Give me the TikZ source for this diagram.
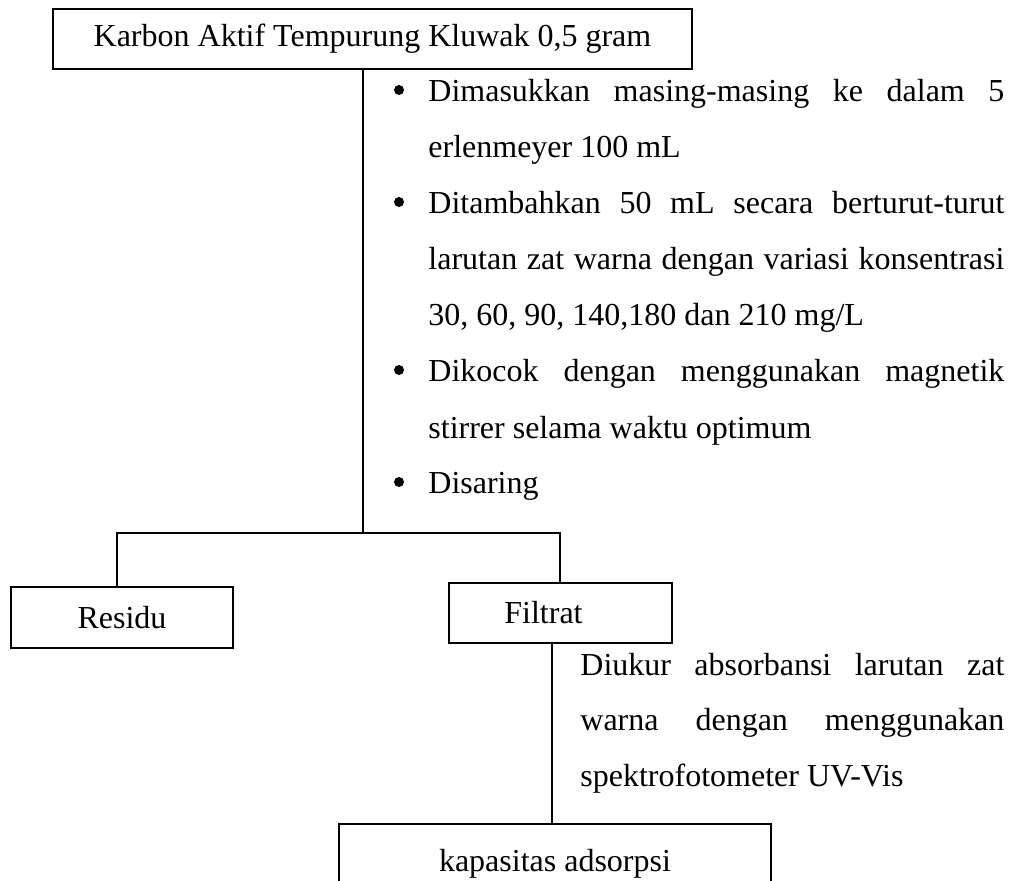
\documentclass[tikz,border=0pt]{standalone}
\usepackage{fontspec}
\setmainfont{Liberation Serif}
\newcommand{\fsz}{\fontsize{16}{19}\selectfont}
\begin{document}
\begin{tikzpicture}[x=0.5pt,y=-0.5pt,
  box/.style={draw,line width=0.8pt,inner sep=0pt,font=\fsz},
  txt/.style={inner sep=0pt,anchor=base west,font=\fsz},
  bul/.style={circle,fill=black,inner sep=0pt,minimum size=5pt},
  conn/.style={line width=0.8pt}]
\clip (0,0) rectangle (1016,881);
\useasboundingbox (0,0) rectangle (1016,881);

% boxes
\node[box,minimum width=319.5pt,minimum height=30pt] (karbon) at (372.5,39) {Karbon Aktif Tempurung Kluwak 0,5 gram};
\node[box,minimum width=111pt,minimum height=30.5pt] (residu) at (122,617.5) {Residu};
\node[box,minimum width=111.5pt,minimum height=30pt] (filtrat) at (560.5,613) {Filtrat\hspace*{17pt}};
\node[box,minimum width=216pt,minimum height=40pt] (kap) at (555,864) {kapasitas adsorpsi};

% bullet list
\node[bul] (b1) at (399,90) {};
\node[txt] (l1) at (428,102) {\makebox[288pt][s]{Dimasukkan masing-masing ke dalam 5}};
\node[txt] (l2) at (428,158) {erlenmeyer 100 mL};
\node[bul] (b2) at (399,202) {};
\node[txt] (l3) at (428,214) {\makebox[288pt][s]{Ditambahkan 50 mL secara berturut-turut}};
\node[txt] (l4) at (428,270) {\makebox[288pt][s]{larutan zat warna dengan variasi konsentrasi}};
\node[txt] (l5) at (428,326) {30, 60, 90, 140,180 dan 210 mg/L};
\node[bul] (b3) at (399,370) {};
\node[txt] (l6) at (428,382) {\makebox[288pt][s]{Dikocok dengan menggunakan magnetik}};
\node[txt] (l7) at (428,438) {stirrer selama waktu optimum};
\node[bul] (b4) at (399,482) {};
\node[txt] (l8) at (428,494) {Disaring};

% measurement text
\node[txt] (m1) at (580,675) {\makebox[212pt][s]{Diukur absorbansi larutan zat}};
\node[txt] (m2) at (580,730) {\makebox[212pt][s]{warna dengan menggunakan}};
\node[txt] (m3) at (580,786) {spektrofotometer UV-Vis};

% connectors
\coordinate (j) at (363,533);
\coordinate (hL) at (117,533);
\coordinate (hR) at (560,533);
\coordinate (fk) at (552,700);
\draw[conn] (karbon.south -| j) -- (j);
\draw[conn] (hL |- residu.north) -- (hL) -- (hR) -- (hR |- filtrat.north);
\draw[conn] (fk |- filtrat.south) -- (fk |- kap.north);
\end{tikzpicture}
\end{document}
